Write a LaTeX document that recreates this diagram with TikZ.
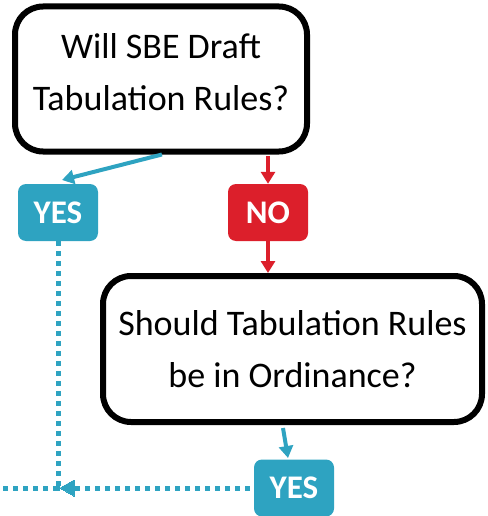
\documentclass[tikz,border=0pt]{standalone}
\usepackage{fontspec}
\setmainfont{Carlito}
\usetikzlibrary{arrows.meta}
\definecolor{yesblue}{RGB}{46,163,193}
\definecolor{nored}{RGB}{220,31,43}
\tikzset{
  question/.style={draw=black, line width=6pt, rounded corners=28pt, fill=white,
    align=center, font=\fontsize{36}{52}\selectfont},
  answer/.style={rounded corners=8pt, text=white, minimum width=80pt, minimum height=57pt,
    font=\fontsize{33}{36}\selectfont\bfseries},
  flow/.style={line width=4pt, -{Triangle[length=12pt,width=14pt]}},
  dotflow/.style={yesblue, line width=5pt, dash pattern=on 5pt off 5pt}
}
\begin{document}
\begin{tikzpicture}[x=1pt, y=-1pt]
  \useasboundingbox (0, 0) rectangle (487, 516);

  \node [question, minimum width=292pt, minimum height=145pt] (willbox) at (161, 79)
    {Will SBE Draft\\Tabulation Rules?\rule[-13pt]{0pt}{0pt}};
  \node [answer, fill=yesblue] (yesA) at (58, 212.5) {YES};
  \node [answer, fill=nored] (noA) at (268, 212.5) {NO};

  \node [question, minimum width=379pt, minimum height=146pt] (ordbox) at (292.5, 349)
    {Should Tabulation Rules\\be in Ordinance?};
  \node [answer, fill=yesblue] (yesB) at (294, 488) {YES};

  \coordinate (junction) at (58, 488);
  \coordinate (offleft) at (0, 488);

  \draw [flow, yesblue, shorten <=-2pt] (160, 155) -- (62, 180);
  \draw [flow, nored] (268, 156) -- (noA.north);
  \draw [flow, nored] (noA.south) -- (ordbox.north -| noA.south);
  \draw [flow, yesblue] (283, 428) -- (288, 458);

  \draw [dotflow] (yesA.south) -- (junction);
  \draw [dotflow] (yesB.west) ++(-4, 0) -- (junction);
  \draw [yesblue, line width=0pt, fill=yesblue] (junction) ++(2, 0) -- ++(14, -8) -- ++(0, 16) -- cycle;
  \draw [dotflow] (junction) -- (offleft);
\end{tikzpicture}
\end{document}
